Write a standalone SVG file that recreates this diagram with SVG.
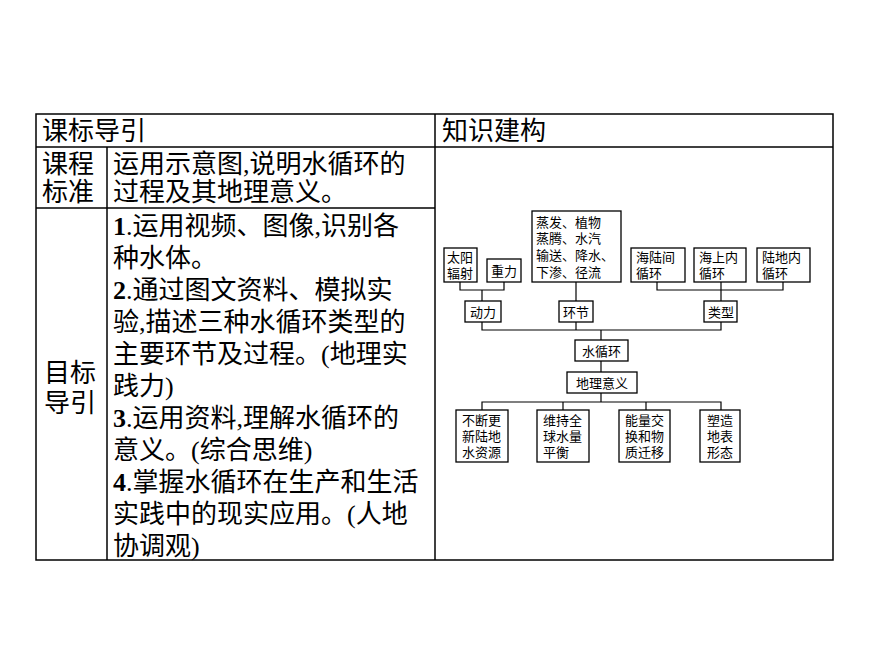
<svg xmlns="http://www.w3.org/2000/svg" width="870" height="653" viewBox="0 0 870 653">
<style>
.t{font-family:"Noto Sans CJK SC","Noto Sans",sans-serif;font-size:26px;fill:#000}
.s{font-family:"Liberation Serif",serif}
.b{font-family:"Liberation Serif",serif;font-weight:bold}
.n rect{fill:#fff;stroke:#000;stroke-width:1.3}
.n text{font-family:"Noto Sans CJK SC",sans-serif;font-size:13px;fill:#000}
.g line,.g polyline{stroke:#000;stroke-width:1.2;fill:none}
.tb{stroke:#000;stroke-width:1.5;fill:none}
</style>
<rect width="870" height="653" fill="#fff"/>
<g id="table">
<rect class="tb" x="36" y="114" width="797" height="446"/>
<line class="tb" x1="36" y1="147" x2="833" y2="147"/>
<line class="tb" x1="36" y1="208" x2="435" y2="208"/>
<line class="tb" x1="107" y1="147" x2="107" y2="560"/>
<line class="tb" x1="435" y1="114" x2="435" y2="560"/>
<text class="t" x="42" y="140">课标导引</text>
<text class="t" x="442" y="140">知识建构</text>
<text class="t" x="42" y="173">课程</text>
<text class="t" x="42" y="201">标准</text>
<text class="t" x="44" y="382">目标</text>
<text class="t" x="44" y="412">导引</text>
<text class="t" x="113" y="173">运用示意图<tspan class="s">,</tspan>说明水循环的</text>
<text class="t" x="113" y="201">过程及其地理意义。</text>
<text class="t" x="113" y="235"><tspan class="b">1</tspan><tspan class="s">.</tspan>运用视频、图像<tspan class="s">,</tspan>识别各</text>
<text class="t" x="113" y="267">种水体。</text>
<text class="t" x="113" y="299"><tspan class="b">2</tspan><tspan class="s">.</tspan>通过图文资料、模拟实</text>
<text class="t" x="113" y="331">验<tspan class="s">,</tspan>描述三种水循环类型的</text>
<text class="t" x="113" y="363">主要环节及过程。<tspan class="s">(</tspan>地理实</text>
<text class="t" x="113" y="395">践力<tspan class="s">)</tspan></text>
<text class="t" x="113" y="427"><tspan class="b">3</tspan><tspan class="s">.</tspan>运用资料<tspan class="s">,</tspan>理解水循环的</text>
<text class="t" x="113" y="459">意义。<tspan class="s">(</tspan>综合思维<tspan class="s">)</tspan></text>
<text class="t" x="113" y="491"><tspan class="b">4</tspan><tspan class="s">.</tspan>掌握水循环在生产和生活</text>
<text class="t" x="113" y="523">实践中的现实应用。<tspan class="s">(</tspan>人地</text>
<text class="t" x="113" y="555">协调观<tspan class="s">)</tspan></text>
</g>
<g id="connectors" class="g">
<polyline points="460,282 460,290 504,290 504,282"/>
<line x1="482" y1="290" x2="482" y2="301"/>
<line x1="576" y1="282" x2="576" y2="301"/>
<polyline points="657,282 657,290 783,290 783,282"/>
<line x1="721" y1="282" x2="721" y2="301"/>
<polyline points="482,322 482,330 721,330 721,322"/>
<line x1="576" y1="322" x2="576" y2="330"/>
<line x1="601" y1="330" x2="601" y2="340"/>
<line x1="601" y1="361" x2="601" y2="372"/>
<line x1="601" y1="393" x2="601" y2="402"/>
<polyline points="482,410 482,402 721,402 721,410"/>
<line x1="563" y1="402" x2="563" y2="410"/>
<line x1="646" y1="402" x2="646" y2="410"/>
</g>
<g id="n1" class="n"><rect x="444" y="248" width="33" height="34"/><text x="447" y="262">太阳</text><text x="447" y="278">辐射</text></g>
<g id="n2" class="n"><rect x="487" y="259" width="34" height="23"/><text x="491" y="276">重力</text></g>
<g id="n3" class="n"><rect x="532" y="211" width="89" height="71"/><text x="536" y="227">蒸发、植物</text><text x="536" y="243">蒸腾、水汽</text><text x="536" y="260">输送、降水、</text><text x="536" y="277">下渗、径流</text></g>
<g id="n4" class="n"><rect x="631" y="248" width="54" height="34"/><text x="636" y="262">海陆间</text><text x="636" y="278">循环</text></g>
<g id="n5" class="n"><rect x="694" y="248" width="52" height="34"/><text x="699" y="262">海上内</text><text x="699" y="278">循环</text></g>
<g id="n6" class="n"><rect x="757" y="248" width="53" height="34"/><text x="762" y="262">陆地内</text><text x="762" y="278">循环</text></g>
<g id="n7" class="n"><rect x="465" y="301" width="36" height="21"/><text x="470" y="317">动力</text></g>
<g id="n8" class="n"><rect x="559" y="301" width="34" height="21"/><text x="563" y="317">环节</text></g>
<g id="n9" class="n"><rect x="704" y="301" width="33" height="21"/><text x="708" y="317">类型</text></g>
<g id="n10" class="n"><rect x="575" y="340" width="53" height="21"/><text x="582" y="356">水循环</text></g>
<g id="n11" class="n"><rect x="567" y="372" width="70" height="21"/><text x="576" y="388">地理意义</text></g>
<g id="n12" class="n"><rect x="456" y="410" width="52" height="52"/><text x="462" y="425">不断更</text><text x="462" y="441">新陆地</text><text x="462" y="457">水资源</text></g>
<g id="n13" class="n"><rect x="537" y="410" width="52" height="52"/><text x="543" y="425">维持全</text><text x="543" y="441">球水量</text><text x="543" y="457">平衡</text></g>
<g id="n14" class="n"><rect x="619" y="410" width="51" height="52"/><text x="625" y="425">能量交</text><text x="625" y="441">换和物</text><text x="625" y="457">质迁移</text></g>
<g id="n15" class="n"><rect x="700" y="410" width="40" height="52"/><text x="707" y="425">塑造</text><text x="707" y="441">地表</text><text x="707" y="457">形态</text></g>
</svg>
